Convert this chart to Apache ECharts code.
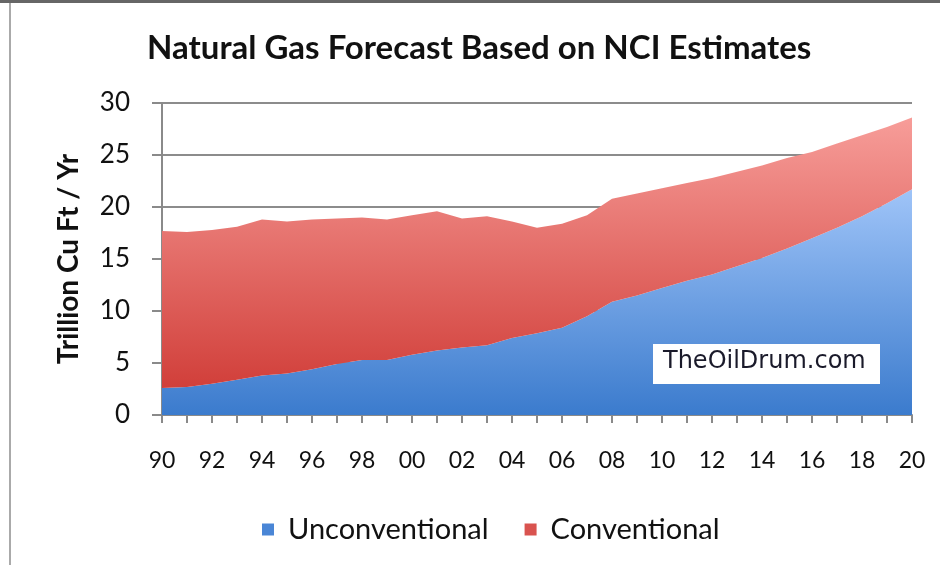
<!DOCTYPE html>
<html>
<head>
<meta charset="utf-8">
<script src="https://cdn.jsdelivr.net/npm/echarts@6/dist/echarts.min.js"></script>
<style>
html,body{margin:0;padding:0;background:#fff;}
#main{width:940px;height:565px;}
</style>
</head>
<body>
<div id="main"></div>
<script>
var years = ["90","91","92","93","94","95","96","97","98","99","00","01","02","03","04","05","06","07","08","09","10","11","12","13","14","15","16","17","18","19","20"];
var unconventional = [2.6,2.7,3.0,3.4,3.8,4.0,4.4,4.9,5.3,5.3,5.8,6.2,6.5,6.7,7.4,7.85,8.4,9.5,10.9,11.5,12.2,12.9,13.5,14.3,15.1,16.0,17.0,18.0,19.1,20.35,21.7];
var conventional = [15.1,14.9,14.8,14.7,15.0,14.6,14.4,14.0,13.7,13.5,13.4,13.4,12.4,12.4,11.2,10.15,10.0,9.7,9.9,9.8,9.6,9.4,9.3,9.1,8.9,8.7,8.3,8.1,7.8,7.35,6.9];
var seriesNames = ["Unconventional","Conventional"];
var yTicks = {min:0, max:30, step:5};

var chart = echarts.init(document.getElementById('main'));
var FONT = 'Lato';
chart.setOption({
  animation:false,
  backgroundColor:'#ffffff',
  title:{
    text:'Natural Gas Forecast Based on NCI Estimates',
    left:142, top:27,
    textStyle:{fontFamily:FONT, fontWeight:'bold', fontSize:33, color:'#111'}
  },
  grid:{left:162, right:28, top:103, bottom:150},
  legend:{
    data:seriesNames,
    left:257, top:510,
    icon:'rect', itemWidth:12, itemHeight:12, itemGap:36,
    textStyle:{fontFamily:FONT, fontSize:29, color:'#111', padding:[0,0,0,9]}
  },
  xAxis:{
    type:'category', boundaryGap:false, data:years,
    axisLine:{lineStyle:{color:'#8a8a8a', width:2}},
    axisTick:{show:true, interval:0, length:8, lineStyle:{color:'#8a8a8a', width:2}},
    axisLabel:{interval:1, margin:34, fontFamily:FONT, fontSize:23, color:'#111'},
    splitLine:{show:false}
  },
  yAxis:{
    type:'value', min:yTicks.min, max:yTicks.max, interval:yTicks.step,
    name:'Trillion Cu Ft / Yr', nameLocation:'middle', nameRotate:90, nameGap:79,
    nameTextStyle:{fontFamily:FONT, fontWeight:'bold', fontSize:28, color:'#111'},
    axisLine:{show:true, lineStyle:{color:'#8a8a8a', width:2}},
    axisTick:{show:true, length:10, lineStyle:{color:'#8a8a8a', width:2}},
    axisLabel:{margin:32, fontFamily:FONT, fontSize:26, color:'#111'},
    splitLine:{lineStyle:{color:'#8c8c8c', width:2}}
  },
  series:[
    {
      name:seriesNames[0], type:'line', stack:'total', data:unconventional,
      symbol:'none', lineStyle:{width:0}, color:'#4a86d6',
      areaStyle:{opacity:1, color:new echarts.graphic.LinearGradient(0,0,0,1,[
        {offset:0,color:'#9fc4f8'},{offset:1,color:'#3b7bcd'}])}
    },
    {
      name:seriesNames[1], type:'line', stack:'total', data:conventional,
      symbol:'none', lineStyle:{width:0}, color:'#d9534f',
      areaStyle:{opacity:1, color:new echarts.graphic.LinearGradient(0,0,0,1,[
        {offset:0,color:'#f79d99'},{offset:1,color:'#d13f3a'}])}
    }
  ],
  graphic:[
    {type:'rect', shape:{x:0,y:0,width:940,height:3}, style:{fill:'#666'}, z:100},
    {type:'rect', shape:{x:9,y:3,width:2,height:562}, style:{fill:'#aaa'}, z:100},
    {type:'rect', shape:{x:653,y:344,width:227,height:40}, style:{fill:'#ffffff'}, z:100},
    {type:'text', left:663, top:350, z:101,
     style:{text:'TheOilDrum.com', fill:'#1a1a2a', font:'24px "DejaVu Sans"'}}
  ]
});
</script>
</body>
</html>
